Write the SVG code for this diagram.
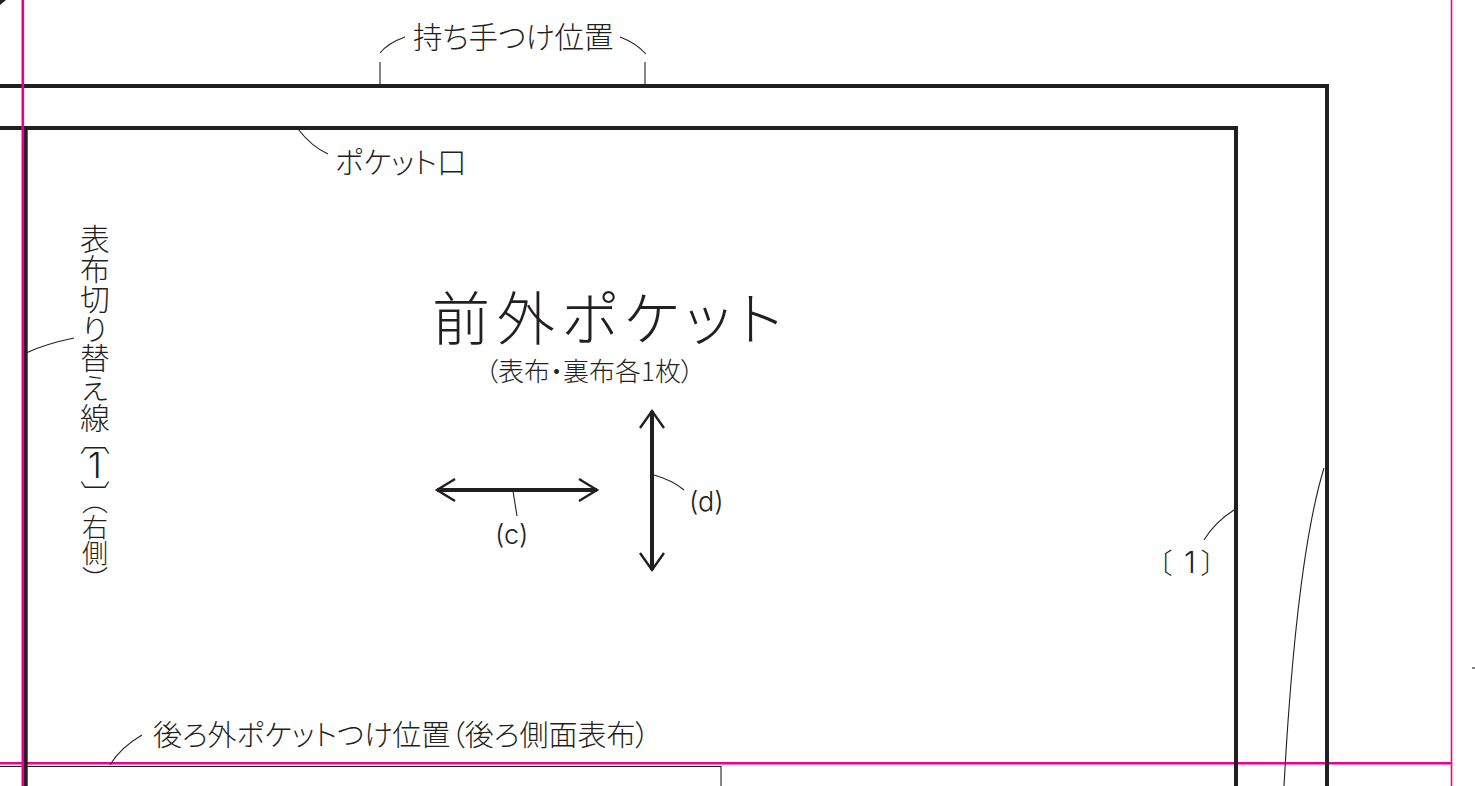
<svg xmlns="http://www.w3.org/2000/svg" width="1475" height="786" viewBox="0 0 1475 786">
<style>
text{font-family:"Noto Sans CJK JP","Noto Sans",sans-serif;fill:#231f20;font-weight:300;font-feature-settings:"palt"}
.n{font-family:Inter,"Noto Sans",sans-serif;font-feature-settings:normal}
.v{writing-mode:vertical-rl;font-feature-settings:normal}
.m{stroke:#ec008c;fill:none}
.k{stroke:#231f20;stroke-width:4;fill:none}
.t{stroke:#231f20;stroke-width:1.1;fill:none}
.a{stroke:#231f20;stroke-width:2.4;fill:none}
</style>
<rect width="1475" height="786" fill="#fff"/>
<g id="guide-horizontal">
<path class="m" stroke-width="2.6" d="M0 763.3H1451"/>
<path class="m" stroke-width="1.6" d="M1451.5 0V786"/>
</g>
<g id="outline">
<path class="k" d="M0 86H1327V786"/>
<path class="k" d="M0 128H1236V786"/>
<path class="k" d="M25.7 128V786"/>
<path class="t" d="M0 766.5H721V786"/>
<path d="M0 0H6L0 5Z" fill="#231f20"/>
<path class="t" d="M1472 668H1475"/>
</g>
<g id="guide-vertical">
<path class="m" stroke-width="2.6" d="M22.8 0V786"/>
</g>
<g id="connectors">
<path class="t" d="M380 84V62M380 53Q388 43 405 37"/>
<path class="t" d="M645 84V62M646 54Q636 43 620 37"/>
<path class="t" d="M298 129Q312 147 328 154"/>
<path class="t" d="M26 353Q45 344 74 338"/>
<path class="t" d="M1234 510Q1215 522 1204 540"/>
<path class="t" d="M1324 468C1305 530 1292 640 1284 786"/>
<path class="t" d="M110 765Q120 748 142 735"/>
<path class="t" d="M513 491L517 516"/>
<path class="t" d="M654 475Q672 480 684 490"/>
</g>
<g id="arrow-c">
<path class="k" d="M437 490H597" stroke-width="3.4"/>
<path class="a" d="M455 479L437 490L455 501M579 479L597 490L579 501"/>
</g>
<g id="arrow-d">
<path class="k" d="M652 411V570" stroke-width="3.4"/>
<path class="a" d="M640 428L652 411L664 428M640 553L652 570L664 553"/>
</g>
<g id="labels">
<text x="413" y="48" font-size="29.5">持ち手つけ位置</text>
<text x="335" y="173" font-size="29.5">ポケット口</text>
<text x="432" y="340" font-size="58" font-weight="200" textLength="350">前外ポケット</text>
<text x="485" y="381" font-size="26">（表布・裏布各1枚）</text>
<text class="n" x="495" y="544" font-size="27">(c)</text>
<text class="n" x="689" y="511" font-size="27">(d)</text>
<text x="1158" y="574" font-size="28">〔</text>
<text class="n" x="1190" y="573" font-size="30" text-anchor="middle">1</text>
<text x="1201" y="574" font-size="28">〕</text>
<text x="153" y="746" font-size="29">後ろ外ポケットつけ位置（後ろ側面表布）</text>
<text class="v" x="95" y="224" font-size="29.8">表布切り替え線</text>
<text class="v" x="95" y="425" font-size="30">〔</text>
<text class="n" x="95" y="478" font-size="35" text-anchor="middle">1</text>
<text class="v" x="95" y="480" font-size="30">〕</text>
<text class="v" x="95" y="488" font-size="26">（右側）</text>
</g>
</svg>
